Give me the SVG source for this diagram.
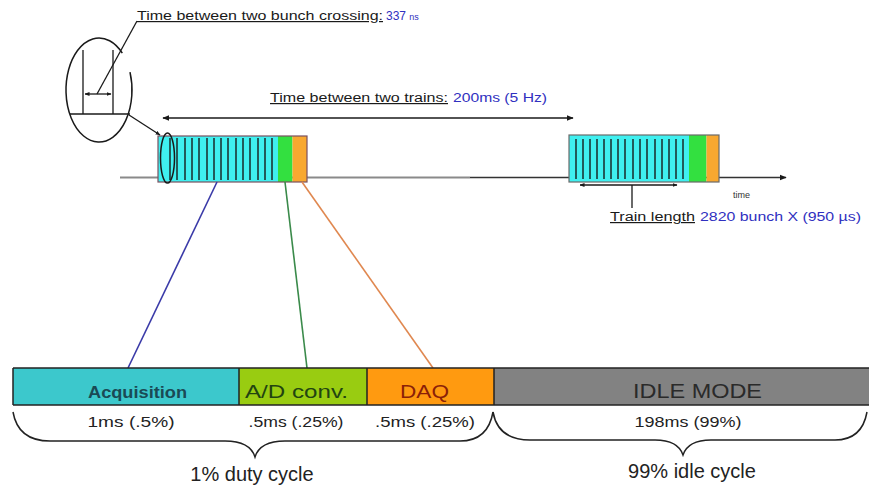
<svg xmlns="http://www.w3.org/2000/svg" width="869" height="492" viewBox="0 0 869 492">
<style>
text{font-family:"Liberation Sans",Arial,sans-serif}
.ul{fill:#1a1a1a;text-decoration:underline}
.blue{fill:#3030c0}
.ln{stroke:#1a1a1a;stroke-width:1.3;fill:none}
.bunch{stroke:#1a2a2a;stroke-width:1.5}
.lbl{font-size:15px;fill:#222;text-anchor:middle}
</style>
<defs>
<marker id="ah" viewBox="0 0 10 10" refX="9" refY="5" markerWidth="7" markerHeight="7" orient="auto-start-reverse" markerUnits="userSpaceOnUse">
<path d="M0,1 L10,5 L0,9 z" fill="#1a1a1a"/>
</marker>
<marker id="ahs" viewBox="0 0 10 10" refX="9" refY="5" markerWidth="5" markerHeight="5" orient="auto-start-reverse" markerUnits="userSpaceOnUse">
<path d="M0,1 L10,5 L0,9 z" fill="#1a1a1a"/>
</marker>
</defs>

<g id="axis">
<line x1="120" y1="177.5" x2="470" y2="177.5" stroke="#8a8a8a" stroke-width="2"/>
<line x1="470" y1="177.5" x2="786" y2="177.5" stroke="#333" stroke-width="1.5" marker-end="url(#ah)"/>
<text x="733" y="198" font-size="9" fill="#333">time</text>
</g>

<g id="train1">
<rect x="158" y="136" width="120" height="46" fill="#3ff0f0"/>
<rect x="278" y="136" width="14.5" height="46" fill="#33e040"/>
<rect x="292.5" y="136" width="14.5" height="46" fill="#f8a830"/>
<g class="bunch">
<line x1="170" y1="138" x2="170" y2="180"/><line x1="177" y1="138" x2="177" y2="180"/><line x1="185" y1="138" x2="185" y2="180"/><line x1="192" y1="138" x2="192" y2="180"/><line x1="199" y1="138" x2="199" y2="180"/><line x1="207" y1="138" x2="207" y2="180"/><line x1="214" y1="138" x2="214" y2="180"/><line x1="221" y1="138" x2="221" y2="180"/><line x1="228" y1="138" x2="228" y2="180"/><line x1="236" y1="138" x2="236" y2="180"/><line x1="243" y1="138" x2="243" y2="180"/><line x1="250" y1="138" x2="250" y2="180"/><line x1="258" y1="138" x2="258" y2="180"/><line x1="265" y1="138" x2="265" y2="180"/><line x1="272" y1="138" x2="272" y2="180"/>
</g>
<rect x="158" y="136" width="149" height="46" fill="none" stroke="#7a5060" stroke-width="1.2"/>
<ellipse cx="167.5" cy="158" rx="7" ry="25" fill="none" stroke="#1a1a1a" stroke-width="1.5"/>
</g>

<g id="train2">
<rect x="569" y="135" width="120" height="47" fill="#3ff0f0"/>
<rect x="689" y="135" width="17.5" height="47" fill="#33e040"/>
<rect x="706.5" y="135" width="12.5" height="47" fill="#f8a830"/>
<g class="bunch">
<line x1="576" y1="139" x2="576" y2="179"/><line x1="583" y1="139" x2="583" y2="179"/><line x1="590" y1="139" x2="590" y2="179"/><line x1="597" y1="139" x2="597" y2="179"/><line x1="604" y1="139" x2="604" y2="179"/><line x1="611" y1="139" x2="611" y2="179"/><line x1="618" y1="139" x2="618" y2="179"/><line x1="625" y1="139" x2="625" y2="179"/><line x1="633" y1="139" x2="633" y2="179"/><line x1="640" y1="139" x2="640" y2="179"/><line x1="647" y1="139" x2="647" y2="179"/><line x1="655" y1="139" x2="655" y2="179"/><line x1="662" y1="139" x2="662" y2="179"/><line x1="669" y1="139" x2="669" y2="179"/><line x1="676" y1="139" x2="676" y2="179"/><line x1="683" y1="139" x2="683" y2="179"/>
</g>
<rect x="569" y="135" width="150" height="47" fill="none" stroke="#6a6a6a" stroke-width="1.2"/>
</g>

<g id="zoom-bunch">
<path d="M130,72.2 A33,52 0 1 1 122.3,53.2" fill="none" stroke="#1a1a1a" stroke-width="1.5"/>
<line x1="83" y1="50" x2="83" y2="114" class="ln"/>
<line x1="113" y1="50" x2="113" y2="114" class="ln"/>
<line x1="70" y1="114" x2="130" y2="114" class="ln"/>
<line x1="85" y1="94" x2="111" y2="94" class="ln" marker-start="url(#ahs)" marker-end="url(#ahs)"/>
<line x1="97" y1="94" x2="137" y2="21" class="ln"/>
<line x1="129" y1="115" x2="160" y2="135" class="ln" marker-end="url(#ahs)"/>
</g>

<g id="label-bunch">
<text x="137" y="20" font-size="12" class="ul" textLength="246" lengthAdjust="spacingAndGlyphs">Time between two bunch crossing:</text>
<text x="386" y="20" font-size="12" class="blue">337 <tspan font-size="9">ns</tspan></text>
</g>

<g id="label-trains">
<line x1="163" y1="118" x2="573" y2="118" stroke="#1a1a1a" stroke-width="1.5" marker-start="url(#ah)" marker-end="url(#ah)"/>
<text x="270" y="102" font-size="12" class="ul" textLength="178" lengthAdjust="spacingAndGlyphs">Time between two trains:</text>
<text x="453" y="102" font-size="12" class="blue" textLength="94" lengthAdjust="spacingAndGlyphs">200ms (5 Hz)</text>
</g>

<g id="label-trainlength">
<line x1="580" y1="185" x2="677" y2="185" stroke="#1a1a1a" stroke-width="1.5" marker-start="url(#ahs)" marker-end="url(#ahs)"/>
<line x1="632" y1="185" x2="632" y2="208" class="ln"/>
<text x="610" y="221" font-size="12" class="ul" textLength="85" lengthAdjust="spacingAndGlyphs">Train length</text>
<text x="700" y="221" font-size="12" class="blue" textLength="161" lengthAdjust="spacingAndGlyphs">2820 bunch X (950 µs)</text>
</g>

<g id="connectors" fill="none" stroke-width="1.6">
<line x1="217" y1="182" x2="128" y2="368" stroke="#3a3aa8"/>
<line x1="285" y1="182" x2="307" y2="368" stroke="#3a8a4a"/>
<line x1="302" y1="182" x2="433" y2="368" stroke="#e08850"/>
</g>

<g id="bar-acquisition">
<rect x="13" y="368" width="226" height="37" fill="#3cc8cc"/>
<text x="88" y="398" font-size="16" font-weight="bold" fill="#1a4a55" textLength="99" lengthAdjust="spacingAndGlyphs">Acquisition</text>
</g>
<g id="bar-adconv">
<rect x="239" y="368" width="128" height="37" fill="#99cc11"/>
<text x="245" y="398" font-size="19" fill="#224411" textLength="103" lengthAdjust="spacingAndGlyphs">A/D conv.</text>
</g>
<g id="bar-daq">
<rect x="367" y="368" width="127" height="37" fill="#ff9a10"/>
<text x="400" y="398" font-size="19" fill="#8a2008" textLength="49" lengthAdjust="spacingAndGlyphs">DAQ</text>
</g>
<g id="bar-idle">
<rect x="494" y="368" width="376" height="37" fill="#828282"/>
<text x="633" y="398" font-size="20" fill="#2a2a2a" textLength="129" lengthAdjust="spacingAndGlyphs">IDLE MODE</text>
</g>
<g id="bar-borders" stroke="#222" stroke-width="1.5" fill="none">
<line x1="13" y1="368" x2="869" y2="368"/>
<line x1="13" y1="405" x2="869" y2="405"/>
<line x1="13" y1="368" x2="13" y2="405"/>
<line x1="239" y1="368" x2="239" y2="405"/>
<line x1="367" y1="368" x2="367" y2="405"/>
<line x1="494" y1="368" x2="494" y2="405"/>
</g>

<g id="durations">
<text x="131" y="427" class="lbl" textLength="87" lengthAdjust="spacingAndGlyphs">1ms (.5%)</text>
<text x="296" y="427" class="lbl" textLength="95" lengthAdjust="spacingAndGlyphs">.5ms (.25%)</text>
<text x="425" y="427" class="lbl" textLength="100" lengthAdjust="spacingAndGlyphs">.5ms (.25%)</text>
<text x="688" y="427" class="lbl" textLength="107" lengthAdjust="spacingAndGlyphs">198ms (99%)</text>
</g>

<g id="brace-duty">
<path d="M13,412 Q18,441 50,441 L225,441 Q250,441 255,457 Q260,441 285,441 L460,441 Q488,441 493,412" fill="none" stroke="#222" stroke-width="1.5"/>
<text x="252" y="481" font-size="20" fill="#222" text-anchor="middle">1% duty cycle</text>
</g>
<g id="brace-idle">
<path d="M493,412 Q498,440 530,440 L655,440 Q678,440 683,455 Q688,440 711,440 L835,440 Q862,440 867,412" fill="none" stroke="#222" stroke-width="1.5"/>
<text x="692" y="478" font-size="20" fill="#222" text-anchor="middle">99% idle cycle</text>
</g>
</svg>
